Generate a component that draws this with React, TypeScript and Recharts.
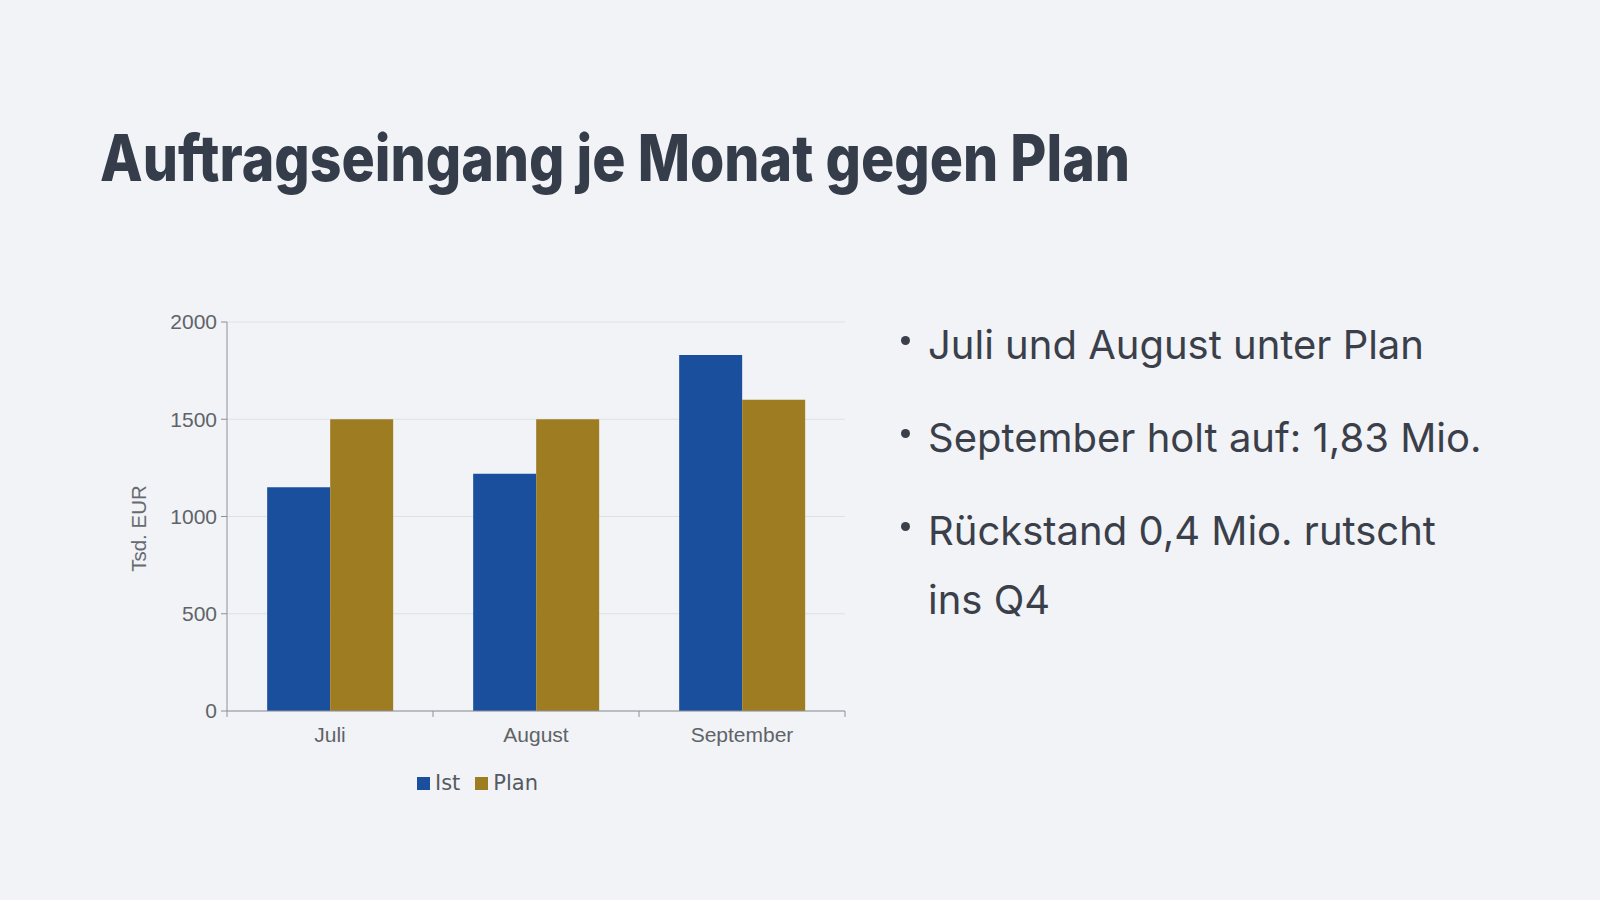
import React from "react";
import {
  BarChart,
  Bar,
  XAxis,
  YAxis,
  CartesianGrid,
  Legend,
} from "recharts";

const months = ["Juli", "August", "September"];
const ist = [1150, 1220, 1830];
const plan = [1500, 1500, 1600];
const yTicks = [0, 500, 1000, 1500, 2000];

const title = "Auftragseingang je Monat gegen Plan";
const bullets = [
  ["Juli und August unter Plan"],
  ["September holt auf: 1,83 Mio."],
  ["Rückstand 0,4 Mio. rutscht", "ins Q4"],
];

const IST_COLOR = "#1a4f9e";
const PLAN_COLOR = "#9e7d22";
const AXIS = "#8c9097";
const TICK_TEXT = "#5f6368";
const tickFont = "'Liberation Sans', Arial, sans-serif";

const data = months.map((m, i) => ({ month: m, ist: ist[i], plan: plan[i] }));

// category ticks sit on band edges, labels in the middle
function MonthTick(props: any) {
  const { x, y, payload, index } = props;
  const half = payload?.offset ?? 0;
  const last = index === months.length - 1;
  return (
    <g>
      <line x1={x - half} x2={x - half} y1={y - 8} y2={y - 2} stroke={AXIS} />
      {last && <line x1={x + half} x2={x + half} y1={y - 8} y2={y - 2} stroke={AXIS} />}
      <text
        x={x}
        y={y + 23}
        textAnchor="middle"
        fontSize={21}
        fill={TICK_TEXT}
        fontFamily={tickFont}
      >
        {payload.value}
      </text>
    </g>
  );
}

function YLabel(props: any) {
  const vb = props.viewBox || {};
  const cx = 38;
  const cy = (vb.y ?? 0) + (vb.height ?? 0) / 2 + 12;
  return (
    <text
      x={cx}
      y={cy}
      transform={`rotate(-90 ${cx} ${cy})`}
      textAnchor="middle"
      dominantBaseline="central"
      fontSize={20.5}
      fill="#666b72"
      fontFamily={tickFont}
    >
      Tsd. EUR
    </text>
  );
}

function LegendContent() {
  const items = [
    { label: "Ist", color: IST_COLOR },
    { label: "Plan", color: PLAN_COLOR },
  ];
  return (
    <div
      style={{
        display: "flex",
        justifyContent: "center",
        gap: 15,
        paddingTop: 20,
        paddingLeft: 10,
        fontFamily: "'DejaVu Sans', sans-serif",
        fontSize: 21,
        color: "#555a62",
      }}
    >
      {items.map((it) => (
        <span key={it.label} style={{ display: "flex", alignItems: "center", gap: 5 }}>
          <span style={{ width: 13, height: 13, background: it.color, display: "inline-block" }} />
          {it.label}
        </span>
      ))}
    </div>
  );
}

export default function App() {
  return (
    <div
      style={{
        position: "relative",
        width: 1600,
        height: 900,
        background: "#f1f3f6",
        overflow: "hidden",
      }}
    >
      <style>{`body{margin:0}`}</style>
      <svg style={{ position: "absolute", left: 0, top: 0 }} width={1600} height={240}>
        <text
          x={100}
          y={181}
          fontFamily="Inter, 'Noto Sans', sans-serif"
          fontWeight={800}
          fontSize={64}
          fill="#363d4a"
          textLength={1030}
          lengthAdjust="spacingAndGlyphs"
        >
          {title}
        </text>
      </svg>

      <div style={{ position: "absolute", left: 100, top: 290 }}>
        <BarChart
          width={760}
          height={520}
          data={data}
          margin={{ top: 32, right: 15, bottom: 19, left: 0 }}
          barCategoryGap="19.5%"
          barGap={0}
        >
          <CartesianGrid vertical={false} stroke="#dde1e6" />
          <XAxis
            dataKey="month"
            stroke={AXIS}
            tickLine={false}
            height={40}
            tick={<MonthTick />}
            interval={0}
          />
          <YAxis
            width={127}
            domain={[0, 2000]}
            ticks={yTicks}
            stroke={AXIS}
            tickSize={6}
            tickMargin={4}
            tick={{ fontSize: 21, fill: TICK_TEXT, fontFamily: tickFont }}
            label={<YLabel />}
          />
          <Legend verticalAlign="bottom" height={40} content={<LegendContent />} />
          <Bar dataKey="ist" name="Ist" fill={IST_COLOR} isAnimationActive={false} />
          <Bar dataKey="plan" name="Plan" fill={PLAN_COLOR} isAnimationActive={false} />
        </BarChart>
      </div>

      <div
        style={{
          position: "absolute",
          left: 928,
          top: 310,
          fontFamily: "Inter, sans-serif",
          fontSize: 40,
          lineHeight: "69px",
          color: "#3a3f4a",
        }}
      >
        {bullets.map((lines, i) => (
          <div key={i} style={{ position: "relative", marginBottom: 24 }}>
            <span
              style={{
                position: "absolute",
                left: -27,
                top: 26,
                width: 9,
                height: 9,
                borderRadius: "50%",
                background: "#3a3f4a",
              }}
            />
            {lines.map((l, j) => (
              <div key={j}>{l}</div>
            ))}
          </div>
        ))}
      </div>
    </div>
  );
}
